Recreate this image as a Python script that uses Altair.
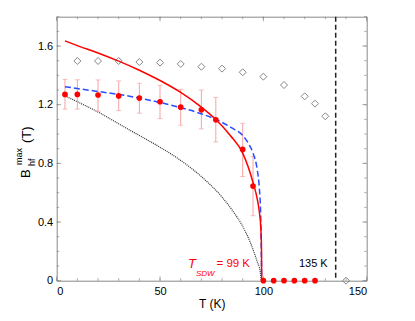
import altair as alt
import pandas as pd

# ---- data ----
pts_T = [4, 10, 20, 30, 40, 50, 60, 70, 77, 90, 95, 100, 105, 110, 115, 120, 125]
pts_B = [1.27, 1.27, 1.266, 1.26, 1.245, 1.22, 1.183, 1.165, 1.097, 0.895, 0.645, 0, 0, 0, 0, 0, 0]
err_T = [4, 10, 20, 30, 40, 50, 60, 70, 77, 90, 95]
err_lo = [1.17, 1.17, 1.155, 1.16, 1.142, 1.105, 1.06, 1.035, 0.946, 0.71, 0.443]
err_hi = [1.373, 1.37, 1.369, 1.362, 1.346, 1.332, 1.305, 1.30, 1.25, 1.073, 0.847]

dia_T = [10, 20, 30, 40, 50, 60, 70, 80, 90, 100, 110, 120, 125, 130, 140]
dia_B = [1.498, 1.498, 1.498, 1.491, 1.487, 1.478, 1.459, 1.446, 1.421, 1.391, 1.334, 1.257, 1.207, 1.121, 0]

red_T = [4, 10, 20, 30, 40, 50, 60, 70, 77, 84, 90, 95, 97, 98, 98.8, 99.1, 99.2]
red_B = [1.635, 1.603, 1.553, 1.497, 1.435, 1.365, 1.284, 1.184, 1.099, 0.99, 0.87, 0.67, 0.56, 0.475, 0.35, 0.22, 0]

blue_T = [4, 10, 20, 30, 40, 50, 60, 70, 77, 85, 90, 93, 95, 97, 98, 98.7, 99, 99.2]
blue_B = [1.323, 1.31, 1.29, 1.27, 1.245, 1.215, 1.18, 1.138, 1.10, 1.04, 0.99, 0.93, 0.87, 0.76, 0.64, 0.45, 0.2, 0]

gray_T = [4, 10, 20, 30, 40, 50, 60, 70, 80, 85, 90, 94, 97, 98.5, 99]
gray_B = [1.26, 1.22, 1.15, 1.07, 0.99, 0.91, 0.82, 0.71, 0.57, 0.48, 0.37, 0.25, 0.13, 0.06, 0]

vline_T = [135]

x_major = [0, 50, 100, 150]
x_minor = [v for v in range(0, 151, 10)]
y_major = [0, 0.4, 0.8, 1.2, 1.6]
y_minor = [round(v * 0.1, 1) for v in range(0, 19)]

W, H = 310, 264
FONT = "Liberation Sans"
xs = alt.Scale(domain=[0, 150], nice=False, zero=False)
ys = alt.Scale(domain=[0, 1.8], nice=False, zero=False)

pts = pd.DataFrame({"T": pts_T, "B": pts_B})
err = pd.DataFrame({"T": err_T, "lo": err_lo, "hi": err_hi})
dia = pd.DataFrame({"T": dia_T, "B": dia_B})
red = pd.DataFrame({"T": red_T, "B": red_B})
blue = pd.DataFrame({"T": blue_T, "B": blue_B})
gray = pd.DataFrame({"T": gray_T, "B": gray_B})
vl = pd.DataFrame({"T": vline_T})

X = lambda: alt.X("T:Q", scale=xs, title="T (K)",
                  axis=alt.Axis(values=x_major, ticks=False, domain=False, grid=False,
                                labelFontSize=11, labelFont=FONT, labelColor="black",
                                labelPadding=5, titleFont=FONT, titleFontSize=12,
                                titleFontWeight="normal", titleColor="black", titlePadding=2))
Y = lambda f="B": alt.Y(f + ":Q", scale=ys, title=None,
                        axis=alt.Axis(values=y_major, ticks=False, domain=False, grid=False,
                                      format=".1~f", labelFontSize=11, labelFont=FONT,
                                      labelColor="black", labelPadding=4))

gray_l = alt.Chart(gray).mark_line(color="#333", strokeWidth=1.2, strokeDash=[1, 1],
                                   interpolate="monotone").encode(x=X(), y=Y())
err_r = alt.Chart(err).mark_rule(color="#f5a3a3", strokeWidth=1).encode(
    x=X(), y=Y("lo"), y2="hi")
cap_lo = alt.Chart(err).mark_tick(color="#f5a3a3", orient="horizontal", size=5, thickness=1).encode(
    x=X(), y=Y("lo"))
cap_hi = alt.Chart(err).mark_tick(color="#f5a3a3", orient="horizontal", size=5, thickness=1).encode(
    x=X(), y=Y("hi"))
blue_l = alt.Chart(blue).mark_line(color="#2a4dff", strokeWidth=1.5, strokeDash=[6, 3],
                                   interpolate="monotone").encode(x=X(), y=Y())
red_l = alt.Chart(red).mark_line(color="#ff0000", strokeWidth=1.5,
                                 interpolate="monotone").encode(x=X(), y=Y())
vrule = alt.Chart(vl).mark_rule(color="#222", strokeWidth=1.5, strokeDash=[5, 3]).encode(x=X())
dia_p = alt.Chart(dia).mark_point(shape="diamond", filled=False, color="#555", size=49,
                                  strokeWidth=1).encode(x=X(), y=Y())
red_p = alt.Chart(pts).mark_circle(color="#ff0000", size=32, opacity=1).encode(x=X(), y=Y())

# inward ticks on all four sides
def xticks(vals, L):
    d = pd.DataFrame({"T": vals})
    b = alt.Chart(d).mark_tick(color="#888", orient="vertical", size=L, thickness=1).encode(
        x=X(), y=alt.value(H - L / 2))
    t = alt.Chart(d).mark_tick(color="#888", orient="vertical", size=L, thickness=1).encode(
        x=X(), y=alt.value(L / 2))
    return [b, t]

def yticks(vals, L):
    d = pd.DataFrame({"B": vals})
    l = alt.Chart(d).mark_tick(color="#888", orient="horizontal", size=L, thickness=1).encode(
        y=Y(), x=alt.value(L / 2))
    r = alt.Chart(d).mark_tick(color="#888", orient="horizontal", size=L, thickness=1).encode(
        y=Y(), x=alt.value(W - L / 2))
    return [l, r]

ticks = xticks(x_minor, 2.5) + xticks(x_major, 4.5) + yticks(y_minor, 2.5) + yticks(y_major, 4.5)

# annotations
def txt(s, x, y, size, color="black", style="normal", angle=0, align="left"):
    return alt.Chart(pd.DataFrame({"s": [s]})).mark_text(
        font=FONT, fontSize=size, color=color, fontStyle=style, angle=angle,
        align=align, baseline="alphabetic").encode(text="s:N", x=alt.value(x), y=alt.value(y))

ox, oy = 56.7, 16.7
ann = [
    txt("T", 188 - ox, 268 - oy, 13, "#ff0000", "italic"),
    txt("SDW", 196 - ox, 276 - oy, 8, "#ff0000", "italic"),
    txt("= 99 K", 216.5 - ox, 267.5 - oy, 11.5, "#ff0000"),
    txt("135 K", 299 - ox, 267.5 - oy, 11),
    txt("B", 30 - ox, 178 - oy, 13, angle=270),
    txt("hf", 35 - ox, 166 - oy, 9, angle=270),
    txt("max", 22 - ox, 165 - oy, 9, angle=270),
    txt("(T)", 31 - ox, 143 - oy, 13, angle=270),
]

chart = alt.layer(
    *ticks, gray_l, err_r, cap_lo, cap_hi, blue_l, red_l, vrule, dia_p, red_p, *ann
).properties(
    width=W, height=H,
    background="white",
    autosize=alt.AutoSizeParams(type="none"),
    padding={"left": 48.7, "top": 8.7, "right": 40, "bottom": 32},
).configure_view(stroke="#8a8a8a", strokeWidth=1)

chart.save("out.html", embed_options={"renderer": "svg", "actions": False})
